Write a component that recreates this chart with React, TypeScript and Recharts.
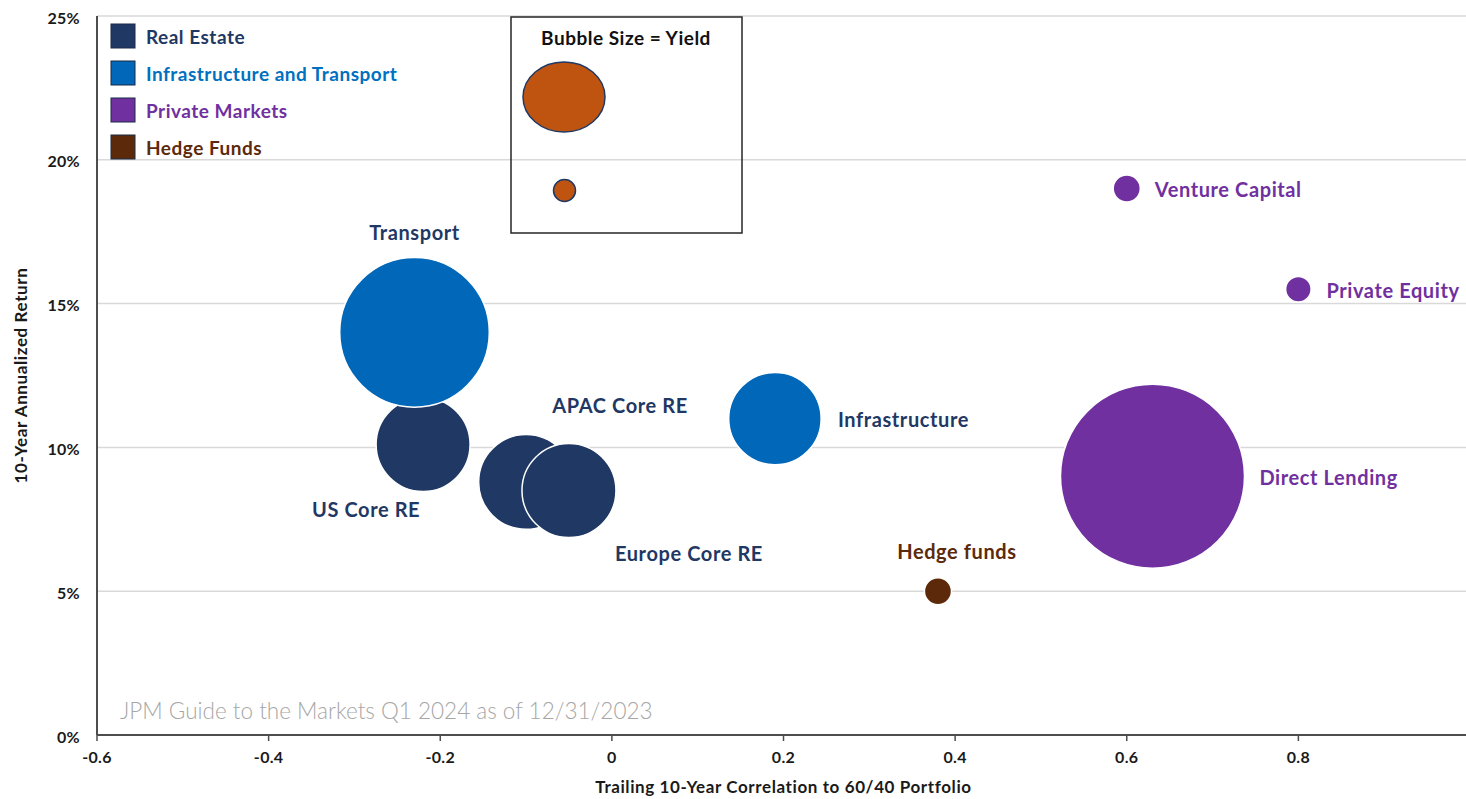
import { ScatterChart, Scatter, XAxis, YAxis, ZAxis, CartesianGrid } from 'recharts';

// one entry per asset: correlation to a 60/40 portfolio, 10y return (%), yield (%)
const assetNames = [
  'US Core RE',
  'APAC Core RE',
  'Europe Core RE',
  'Transport',
  'Infrastructure',
  'Direct Lending',
  'Venture Capital',
  'Private Equity',
  'Hedge funds',
];
const assetGroups = ['re', 're', 're', 'infra', 'infra', 'pm', 'pm', 'pm', 'hf'];
const correlation = [-0.22, -0.1, -0.05, -0.23, 0.19, 0.63, 0.6, 0.8, 0.38];
const annualReturn = [10.1, 8.8, 8.5, 14.0, 11.0, 9.0, 19.0, 15.5, 5.0];
const yieldPct = [3.0, 3.05, 3.0, 7.6, 2.9, 11.5, 0.25, 0.22, 0.25];

const groupKeys = ['re', 'infra', 'pm', 'hf'];
const groupLabels = ['Real Estate', 'Infrastructure and Transport', 'Private Markets', 'Hedge Funds'];

const xTicks = [-0.6, -0.4, -0.2, 0, 0.2, 0.4, 0.6, 0.8];
const yTicks = [0, 5, 10, 15, 20, 25];

const FONT = 'Lato, "Open Sans", sans-serif';
const NAVY = '#1F3864';
const INK = '#1A1A1A';

const GROUP_STYLE: Record<string, { fill: string; text: string; legend: string }> = {
  re: { fill: '#1F3864', text: NAVY, legend: '#1F3864' },
  infra: { fill: '#0067B9', text: NAVY, legend: '#0070C0' },
  pm: { fill: '#7030A0', text: '#7030A0', legend: '#7030A0' },
  hf: { fill: '#5C2A0B', text: '#5C2A0B', legend: '#5C2A0B' },
};

// where each bubble's name sits, relative to the bubble centre
const LABEL_PLACE: Record<string, { dx: number; dy: number; anchor: 'start' | 'middle' | 'end' }> = {
  'US Core RE': { dx: -57, dy: 64, anchor: 'middle' },
  'APAC Core RE': { dx: 94, dy: -77, anchor: 'middle' },
  'Europe Core RE': { dx: 120, dy: 62, anchor: 'middle' },
  Transport: { dx: 0, dy: -100, anchor: 'middle' },
  Infrastructure: { dx: 63, dy: 0, anchor: 'start' },
  'Direct Lending': { dx: 107, dy: 1, anchor: 'start' },
  'Venture Capital': { dx: 28, dy: 0, anchor: 'start' },
  'Private Equity': { dx: 28, dy: 1, anchor: 'start' },
  'Hedge funds': { dx: 19, dy: -40, anchor: 'middle' },
};

const points = assetNames.map((name, i) => ({
  name,
  group: assetGroups[i],
  x: correlation[i],
  y: annualReturn[i],
  z: yieldPct[i],
}));

const MAX_RADIUS = 92;

const makeBubble = (group: string) => (props: any) => {
  const { cx, cy, size, payload } = props;
  const style = GROUP_STYLE[group];
  const r = Math.sqrt(Math.max(size ?? 0, 0) / Math.PI);
  const place = LABEL_PLACE[payload.name];
  return (
    <g>
      <circle cx={cx} cy={cy} r={r} fill={style.fill} stroke="#ffffff" strokeWidth={1.5} />
      {place && (
        <text
          x={cx + place.dx}
          y={cy + place.dy}
          textAnchor={place.anchor}
          dominantBaseline="central"
          fill={style.text}
          fontSize={20}
          fontWeight={700}
          letterSpacing={0.6}
          fontFamily={FONT}
        >
          {payload.name}
        </text>
      )}
    </g>
  );
};

const fmtX = (v: number) => (v === 0 ? '0' : v.toFixed(1));

const tickStyle = { fill: INK, fontSize: 16, fontWeight: 700, fontFamily: FONT, letterSpacing: 0.3 };
const titleStyle = { fill: INK, fontSize: 17, fontWeight: 700, fontFamily: FONT, letterSpacing: 0.6 };

export default function App() {
  return (
    <div
      style={{
        position: 'fixed',
        left: 0,
        top: 0,
        width: 1466,
        height: 799,
        overflow: 'hidden',
        background: '#ffffff',
        fontFamily: FONT,
      }}
    >
      <ScatterChart width={1470} height={799} margin={{ top: 16, right: 0, bottom: 0, left: 0 }}>
        <CartesianGrid vertical={false} stroke="#D9D9D9" strokeWidth={1.5} />
        <XAxis
          type="number"
          dataKey="x"
          domain={[-0.6, 1.0]}
          ticks={xTicks}
          tickFormatter={fmtX}
          height={64}
          tickSize={6}
          tickMargin={11}
          axisLine={{ stroke: '#4D4D4D', strokeWidth: 2 }}
          tickLine={{ stroke: '#4D4D4D', strokeWidth: 1.5 }}
          tick={tickStyle}
          label={{
            value: 'Trailing 10-Year Correlation to 60/40 Portfolio',
            position: 'insideBottom',
            offset: 6,
            ...titleStyle,
          }}
        />
        <YAxis
          type="number"
          dataKey="y"
          domain={[0, 25]}
          ticks={yTicks}
          tickFormatter={(v: number) => `${v}%`}
          width={97}
          tickSize={6}
          tickMargin={11}
          tickLine={false}
          axisLine={{ stroke: '#4D4D4D', strokeWidth: 2 }}
          tick={{ ...tickStyle, dy: 2 }}
          label={{
            value: '10-Year Annualized Return',
            angle: -90,
            position: 'insideLeft',
            offset: 21,
            style: { textAnchor: 'middle' },
            ...titleStyle,
          }}
        />
        <ZAxis type="number" dataKey="z" domain={[0, 11.5]} range={[0, Math.PI * MAX_RADIUS * MAX_RADIUS]} />
        {groupKeys.map((g) => (
          <Scatter
            key={g}
            name={g}
            data={points.filter((p) => p.group === g)}
            fill={GROUP_STYLE[g].fill}
            shape={makeBubble(g)}
            isAnimationActive={false}
          />
        ))}
      </ScatterChart>

      <svg
        width={1466}
        height={799}
        style={{ position: 'absolute', left: 0, top: 0, pointerEvents: 'none' }}
        fontFamily={FONT}
      >
        {/* group legend */}
        {groupKeys.map((g, i) => {
          const cy = 36 + i * 37;
          return (
            <g key={g}>
              <rect x={111} y={cy - 12} width={24} height={24} fill={GROUP_STYLE[g].fill} stroke="#1B2A47" strokeWidth={1} />
              <text
                x={146}
                y={cy}
                dominantBaseline="central"
                fill={GROUP_STYLE[g].legend}
                fontSize={19}
                fontWeight={700}
                letterSpacing={0.5}
              >
                {groupLabels[i]}
              </text>
            </g>
          );
        })}

        {/* bubble size key */}
        <rect x={511} y={17} width={231} height={216} fill="none" stroke="#262626" strokeWidth={1.5} />
        <text
          x={626}
          y={37}
          textAnchor="middle"
          dominantBaseline="central"
          fill="#111111"
          fontSize={19}
          fontWeight={700}
          letterSpacing={0.5}
        >
          Bubble Size = Yield
        </text>
        <ellipse cx={564} cy={97} rx={41} ry={35} fill="#BF5410" stroke={NAVY} strokeWidth={1.5} />
        <circle cx={564.5} cy={190.5} r={11} fill="#BF5410" stroke={NAVY} strokeWidth={1.5} />

        <text x={120} y={710} dominantBaseline="central" fill="#A6A6A6" fontSize={22.5} fontWeight={300}>
          JPM Guide to the Markets Q1 2024 as of 12/31/2023
        </text>
      </svg>
    </div>
  );
}
